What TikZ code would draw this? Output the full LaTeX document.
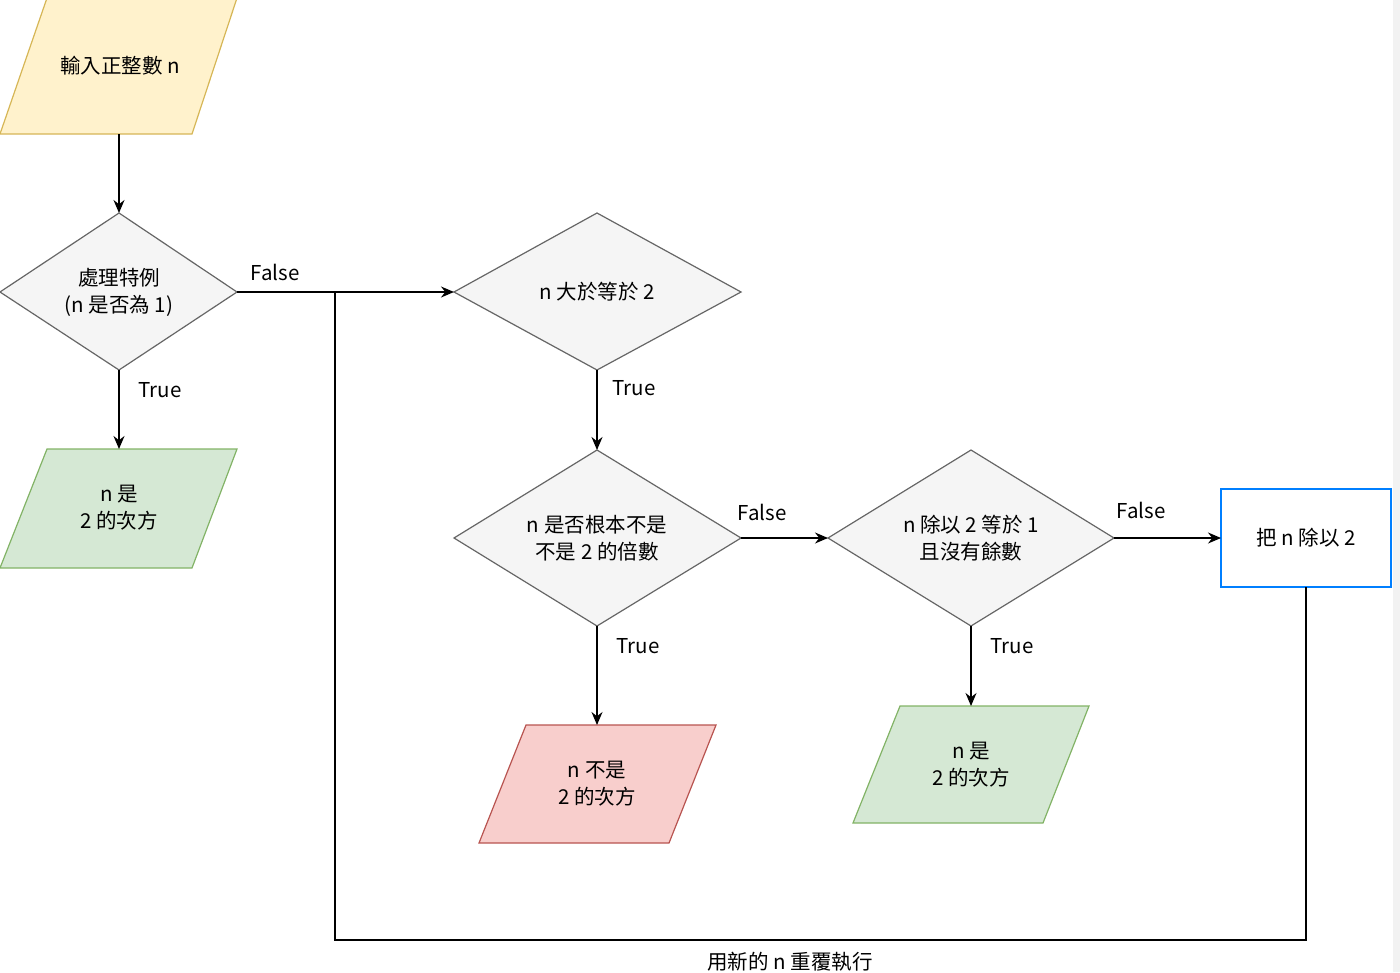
\documentclass[tikz,border=0pt]{standalone}
\usepackage{fontspec}
\setmainfont{Noto Sans CJK TC}
\usetikzlibrary{arrows.meta}
\begin{document}
\begin{tikzpicture}[x=1pt,y=-1pt,
  txt/.style={font=\fontsize{20.5}{27}\selectfont,align=center},
  dia/.style={fill=black!4,draw=black!60,line width=1.2pt},
  arr/.style={-{Stealth[length=13pt,width=11pt]},line width=1.3pt},
  lbl/.style={font=\fontsize{20.5}{26}\selectfont}]
\useasboundingbox (0,0) rectangle (1400,972);
\fill[black!5] (1393,0) rectangle (1400,972);
% input
\draw[fill={rgb,255:red,255;green,242;blue,204},draw={rgb,255:red,214;green,182;blue,86},line width=1.2pt] (0,134)--(192,134)--(237,-2)--(47,-2)--cycle;
\node[txt] (in) at (120,66) {輸入正整數 n};
\coordinate (inb) at (119,134);
% diamond 1
\draw[dia] (0,292)--(119,213)--(237,292)--(119,370)--cycle;
\node[txt] (d1) at (119,292) {處理特例\\(n 是否為 1)};
\coordinate (d1t) at (119,213); \coordinate (d1b) at (119,370); \coordinate (d1r) at (237,292);
% green 1
\draw[fill={rgb,255:red,213;green,232;blue,212},draw={rgb,255:red,130;green,179;blue,102},line width=1.2pt] (0,568)--(192,568)--(237,449)--(47,449)--cycle;
\node[txt] (g1) at (119,508) {n 是\\2 的次方};
\coordinate (g1t) at (119,449);
% diamond 2
\draw[dia] (454,292)--(597,213)--(741,292)--(597,370)--cycle;
\node[txt] (d2) at (597,292) {n 大於等於 2};
\coordinate (d2l) at (454,292); \coordinate (d2b) at (597,370);
% diamond 3
\draw[dia] (454,538)--(597,450)--(741,538)--(597,626)--cycle;
\node[txt] (d3) at (597,538) {n 是否根本不是\\不是 2 的倍數};
\coordinate (d3t) at (597,450); \coordinate (d3b) at (597,626); \coordinate (d3r) at (741,538);
% diamond 4
\draw[dia] (828,538)--(971,450)--(1114,538)--(971,626)--cycle;
\node[txt] (d4) at (971,538) {n 除以 2 等於 1\\且沒有餘數};
\coordinate (d4l) at (828,538); \coordinate (d4b) at (971,626); \coordinate (d4r) at (1114,538);
% box
\draw[fill=white,draw={rgb,255:red,0;green,127;blue,255},line width=1.2pt] (1221,489) rectangle (1391,587);
\node[txt] (bx) at (1306,538) {把 n 除以 2};
\coordinate (bxl) at (1221,538); \coordinate (bxb) at (1306,587);
% red
\draw[fill={rgb,255:red,248;green,206;blue,204},draw={rgb,255:red,184;green,84;blue,80},line width=1.2pt] (479,843)--(669,843)--(716,725)--(526,725)--cycle;
\node[txt] (r1) at (597,784) {n 不是\\2 的次方};
\coordinate (r1t) at (597,725);
% green 2
\draw[fill={rgb,255:red,213;green,232;blue,212},draw={rgb,255:red,130;green,179;blue,102},line width=1.2pt] (853,823)--(1043,823)--(1089,706)--(900,706)--cycle;
\node[txt] (g2) at (971,765) {n 是\\2 的次方};
\coordinate (g2t) at (971,706);
% arrows
\draw[arr] (inb)--(d1t);
\draw[arr] (d1b)--(g1t);
\draw[arr] (d1r)--(d2l);
\draw[arr] (d2b)--(d3t);
\draw[arr] (d3b)--(r1t);
\draw[arr] (d3r)--(d4l);
\draw[arr] (d4b)--(g2t);
\draw[arr] (d4r)--(bxl);
\coordinate (j) at (335,292);
\draw[line width=1.3pt] (bxb)--(1306,940)--(335,940)--(j);
% labels
\node[lbl] (l1) at (275,272) {False};
\node[lbl] (l2) at (160,390) {True};
\node[lbl] (l3) at (634,388) {True};
\node[lbl] (l4) at (762,512) {False};
\node[lbl] (l5) at (638,646) {True};
\node[lbl] (l6) at (1141,510) {False};
\node[lbl] (l7) at (1012,646) {True};
\node[lbl] (l8) at (790,962) {用新的 n 重覆執行};
\end{tikzpicture}
\end{document}
